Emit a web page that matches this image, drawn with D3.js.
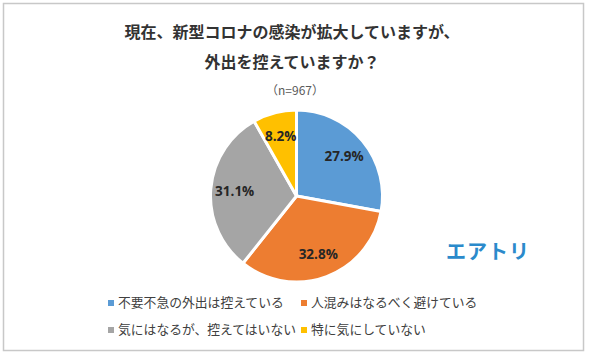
<!DOCTYPE html>
<html><head><meta charset="utf-8">
<script src="https://cdn.jsdelivr.net/npm/d3@7"></script>
<style>
html,body{margin:0;padding:0;background:#fff;}
svg{display:block;}
</style></head>
<body>
<script>
const titleLines = ["現在、新型コロナの感染が拡大していますが、", "外出を控えていますか？"];
const subtitle = "（n=967）";
const categories = ["不要不急の外出は控えている", "人混みはなるべく避けている", "気にはなるが、控えてはいない", "特に気にしていない"];
const values = [27.9, 32.8, 31.1, 8.2];
const colors = ["#5B9BD5", "#ED7D31", "#A5A5A5", "#FFC000"];
const logoText = "エアトリ";

const W = 590, H = 355;
const svg = d3.select("body").append("svg").attr("width", W).attr("height", H);

svg.append("rect").attr("x", 3.5).attr("y", 3.5).attr("width", 580).attr("height", 347)
  .attr("fill", "#fff").attr("stroke", "#c8c8c8").attr("stroke-width", 1.5);

const font = "'Noto Sans CJK JP', 'Noto Sans', sans-serif";

svg.selectAll("text.title").data(titleLines).enter().append("text")
  .attr("class", "title")
  .attr("x", 292).attr("y", (d, i) => 38 + i * 30)
  .attr("text-anchor", "middle")
  .attr("font-family", font).attr("font-weight", "bold").attr("font-size", 16)
  .attr("fill", "#333").text(d => d);

svg.append("text").attr("x", 295).attr("y", 95).attr("text-anchor", "middle")
  .attr("font-family", font).attr("font-size", 12).attr("fill", "#595959").text(subtitle);

const cx = 296.5, cy = 196, R = 86;
const pie = d3.pie().sort(null).value(d => d);
const arcs = pie(values);
const arc = d3.arc().innerRadius(0).outerRadius(R);
const labelArc = d3.arc().innerRadius(62).outerRadius(62);
const g = svg.append("g").attr("transform", `translate(${cx},${cy})`);
g.selectAll("path").data(arcs).enter().append("path")
  .attr("d", arc).attr("fill", (d, i) => colors[i])
  .attr("stroke", "#fff").attr("stroke-width", 3).attr("stroke-linejoin", "round");
g.selectAll("text").data(arcs).enter().append("text")
  .attr("transform", d => `translate(${labelArc.centroid(d)})`)
  .attr("text-anchor", "middle").attr("dy", "0.35em")
  .attr("font-family", "'Open Sans', 'Liberation Sans', sans-serif")
  .attr("font-weight", "bold").attr("font-size", 13.5).attr("fill", "#262626")
  .text(d => d.data.toFixed(1) + "%");

// logo
svg.append("text").attr("x", 488).attr("y", 259).attr("text-anchor", "middle")
  .attr("font-family", font).attr("font-weight", "bold").attr("font-size", 20)
  .attr("fill", "#2B8ACB").attr("letter-spacing", 1).text(logoText);

// legend
const legX = [108, 301], legY = [303, 330];
const leg = svg.selectAll("g.leg").data(categories).enter().append("g")
  .attr("class", "leg")
  .attr("transform", (d, i) => `translate(${legX[i % 2]},${legY[Math.floor(i / 2)]})`);
leg.append("rect").attr("x", 0).attr("y", -3).attr("width", 6).attr("height", 6)
  .attr("fill", (d, i) => colors[i]);
leg.append("text").attr("x", 10).attr("y", 0).attr("dy", "0.35em")
  .attr("font-family", font).attr("font-size", 12.8).attr("fill", "#404040")
  .text(d => d);
</script>
</body></html>
